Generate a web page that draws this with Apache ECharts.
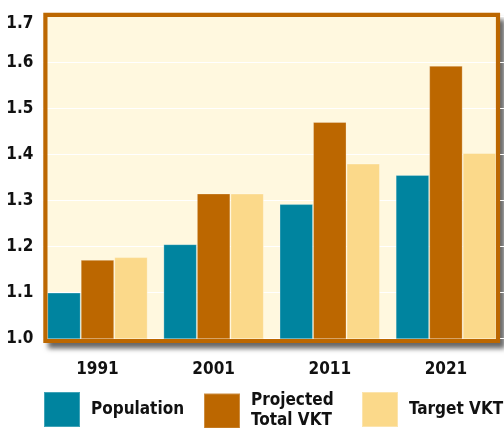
<!DOCTYPE html>
<html>
<head>
<meta charset="utf-8">
<script src="https://cdn.jsdelivr.net/npm/echarts@6/dist/echarts.min.js"></script>
<style>
  html, body { margin: 0; padding: 0; background: #fff; }
  #box1 { width: 504px; height: 428px; }
</style>
</head>
<body>
<div id="box1"></div>
<script>
var categories = ['1991', '2001', '2011', '2021'];
var population = [1.10, 1.205, 1.292, 1.355];
var projectedVkt = [1.171, 1.315, 1.47, 1.592];
var targetVkt = [1.177, 1.315, 1.38, 1.403];

var font = "'DejaVu Sans Condensed', 'Liberation Sans Narrow', sans-serif";
var teal = '#00849F';
var brown = '#BC6700';
var gold = '#FBD98A';

var dom = document.getElementById('box1');
var myChart = echarts.init(dom);
var option = null;

function legendFor(name, left) {
  return {
    data: [name],
    left: left,
    top: 391,
    padding: 0,
    orient: 'horizontal',
    icon: 'rect',
    itemWidth: 36,
    itemHeight: 35,
    selectedMode: false,
    formatter: function (n) {
      return n === 'Projected Total VKT' ? 'Projected\nTotal VKT' : n;
    },
    textStyle: {
      fontFamily: font,
      fontWeight: 'bold',
      fontSize: 17,
      lineHeight: 20,
      color: '#111',
      padding: [0, 0, 0, 6]
    }
  };
}

option = {
  animation: false,
  grid: {
    left: 39.4,
    top: 16,
    width: 466.7,
    height: 322.7
  },
  // framed plot panel: cream fill with drop shadow below, brown border on top
  graphic: [
    {
      type: 'rect',
      z: -10,
      shape: { x: 43.3, y: 12.7, width: 456.7, height: 330.3 },
      style: {
        fill: '#FFF8DF',
        shadowBlur: 5,
        shadowOffsetX: 5,
        shadowOffsetY: 6,
        shadowColor: 'rgba(0,0,0,0.6)'
      }
    },
    {
      type: 'rect',
      z: 100,
      shape: { x: 45.4, y: 14.8, width: 452.6, height: 326.2 },
      style: {
        fill: null,
        stroke: brown,
        lineWidth: 4.2
      }
    }
  ],
  legend: [
    legendFor('Population', 43),
    legendFor('Projected Total VKT', 203),
    legendFor('Target VKT', 361)
  ],
  xAxis: {
    type: 'category',
    data: categories,
    axisLine: { show: false },
    axisTick: { show: false },
    axisLabel: {
      margin: 22,
      fontFamily: font,
      fontWeight: 'bold',
      fontSize: 17,
      color: '#111'
    }
  },
  yAxis: {
    type: 'value',
    min: 1.0,
    max: 1.7,
    interval: 0.1,
    axisLine: { show: false },
    axisTick: { show: false },
    splitLine: { lineStyle: { color: '#FFFFFF', width: 1 } },
    axisLabel: {
      margin: 6,
      fontFamily: font,
      fontWeight: 'bold',
      fontSize: 17,
      color: '#111',
      formatter: function (v) {
        var s = v.toFixed(1);
        return s === '1.7' ? '{top|' + s + '}' : s;
      },
      rich: {
        top: {
          fontFamily: font,
          fontWeight: 'bold',
          fontSize: 17,
          color: '#111',
          padding: [16, 0, 0, 0]
        }
      }
    }
  },
  series: [
    {
      name: 'Population',
      type: 'bar',
      data: population,
      barWidth: 33.5,
      barGap: '0%',
      itemStyle: { color: teal, borderColor: 'rgba(255,255,255,0.25)', borderWidth: 1 }
    },
    {
      name: 'Projected Total VKT',
      type: 'bar',
      data: projectedVkt,
      barWidth: 33.5,
      barGap: '0%',
      itemStyle: { color: brown, borderColor: 'rgba(255,255,255,0.25)', borderWidth: 1 }
    },
    {
      name: 'Target VKT',
      type: 'bar',
      data: targetVkt,
      barWidth: 33.5,
      barGap: '0%',
      itemStyle: { color: gold, borderColor: 'rgba(255,255,255,0.3)', borderWidth: 1 }
    }
  ]
};

if (option && typeof option === 'object') {
  myChart.setOption(option);
}
</script>
</body>
</html>
